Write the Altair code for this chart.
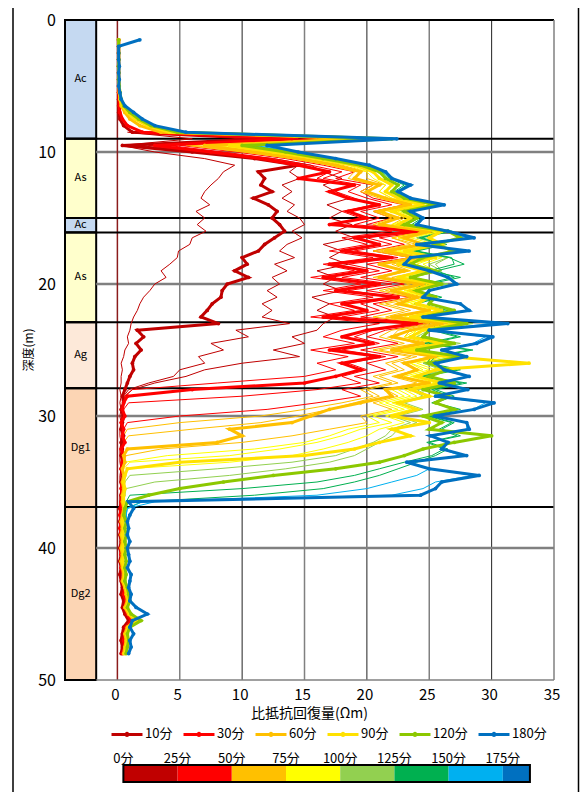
import altair as alt
import pandas as pd

FONT = "Noto Sans CJK JP"

# ---------------- axes / text ----------------
x_ticks = [0, 5, 10, 15, 20, 25, 30, 35]
y_ticks = [0, 10, 20, 30, 40, 50]
x_title = "比抵抗回復量(Ωm)"
y_title = "深度(m)"

# ---------------- strata ----------------
strata_name = ["Ac", "As", "Ac", "As", "Ag", "Dg1", "Dg2"]
strata_top = [0, 9, 15, 16.1, 22.9, 27.9, 36.9]
strata_bottom = [9, 15, 16.1, 22.9, 27.9, 36.9, 50]
strata_color = ["#c5d9f1", "#ffffcc", "#c5d9f1", "#ffffcc", "#fde9d9", "#fcd5b4", "#fcd5b4"]
boundary_depth = [9, 15, 16.1, 22.9, 27.9, 36.9]

grid_gray_x = [5, 15, 25]
grid_dark_x = [10, 20, 30]
grid_depth = [10, 20, 30, 40]

# ---------------- highlighted curves ----------------
thick_labels = ["10分", "30分", "60分", "90分", "120分", "180分"]
thick_colors = ["#c00000", "#ff0000", "#ffc000", "#ffe100", "#8cc800", "#0070c0"]

depth_full = [
    1.5, 2.0, 2.5, 3.0, 3.5, 4.0, 4.5, 5.0, 5.5, 6.0,
    6.5, 7.0, 7.5, 8.0, 8.5, 9.0, 9.5, 10.0, 10.5, 11.0,
    11.5, 12.0, 12.5, 13.0, 13.5, 14.0, 14.5, 15.0, 15.5, 16.0,
    16.5, 17.0, 17.5, 18.0, 18.5, 19.0, 19.5, 20.0, 20.5, 21.0,
    21.5, 22.0, 22.5, 23.0, 23.5, 24.0, 24.5, 25.0, 25.5, 26.0,
    26.5, 27.0, 27.5, 28.0, 28.5, 29.0, 29.5, 30.0, 30.5, 31.0,
    31.5, 32.0, 32.5, 33.0, 33.5, 34.0, 34.5, 35.0, 35.5, 36.0,
    36.5, 37.0, 37.5, 38.0, 38.5, 39.0, 39.5, 40.0, 40.5, 41.0,
    41.5, 42.0, 42.5, 43.0, 43.5, 44.0, 44.5, 45.0, 45.5, 46.0,
    46.5, 47.0, 47.5, 48.0]

c10 = [
    0.1, 0.1, 0.1, 0.1, 0.1, 0.1, 0.1, 0.1, 0.1, 0.1,
    0.1, 0.1, 0.2, 0.5, 1.2, 12.0, 0.4, 6.0, 11.0, 14.5,
    11.3, 11.8, 11.5, 12.4, 10.9, 12.1, 12.8, 12.4, 13.0, 13.4,
    12.6, 11.8, 11.3, 10.0, 10.4, 9.4, 10.5, 8.8, 8.4, 8.3,
    7.6, 7.2, 6.7, 8.1, 1.6, 2.1, 1.5, 1.9, 1.4, 1.2,
    1.3, 1.0, 0.8, 0.6, 0.4, 0.5, 0.3, 0.5, 0.4, 0.3,
    0.5, 0.3, 0.4, 0.3, 0.5, 0.3, 0.4, 0.3, 0.4, 0.3,
    0.3, 0.2, 0.3, 0.2, 0.3, 0.2, 0.3, 0.2, 0.3, 0.2,
    0.3, 0.2, 0.3, 0.4, 0.3, 0.5, 0.4, 0.6, 0.9, 0.5,
    0.4, 0.3, 0.4, 0.3]
c30 = [
    0.1, 0.1, 0.1, 0.1, 0.1, 0.1, 0.1, 0.1, 0.1, 0.15,
    0.15, 0.2, 0.4, 0.8, 2.0, 14.0, 3.0, 7.5, 11.5, 14.5,
    17.0, 14.5, 19.0, 17.0, 18.5, 21.0, 18.5, 20.0, 17.0, 24.0,
    19.0, 21.0, 18.0, 22.0, 17.0, 20.0, 16.5, 21.0, 17.5, 22.5,
    18.0, 20.0, 16.5, 24.0, 20.0, 18.0, 20.5, 17.0, 21.0, 18.0,
    19.5, 17.5, 15.0, 6.0, 0.8, 0.5, 0.4, 0.6, 0.3, 0.5,
    0.4, 0.6, 0.3, 0.5, 0.4, 0.3, 0.5, 0.4, 0.3, 0.4,
    0.3, 0.3, 0.2, 0.3, 0.2, 0.3, 0.4, 0.3, 0.3, 0.4,
    0.3, 0.5, 0.4, 0.6, 0.5, 0.7, 0.6, 0.8, 1.1, 0.7,
    0.6, 0.5, 0.6, 0.4]
c60 = [
    0.1, 0.1, 0.1, 0.1, 0.1, 0.1, 0.1, 0.1, 0.15, 0.2,
    0.3, 0.6, 1.0, 1.8, 3.5, 21.0, 7.0, 11.0, 14.5, 17.5,
    19.5, 19.0, 21.0, 20.0, 21.5, 23.5, 21.0, 22.5, 21.0, 25.0,
    23.0, 24.5, 21.5, 24.0, 21.0, 23.0, 21.0, 24.5, 22.0, 24.0,
    22.5, 25.0, 22.0, 26.0, 23.5, 22.0, 24.5, 22.0, 25.5, 23.0,
    24.0, 22.5, 25.0, 21.5, 22.0, 19.5, 17.0, 15.5, 14.0, 9.0,
    10.0, 8.0, 0.8, 0.5, 0.6, 0.4, 0.5, 0.4, 0.5, 0.4,
    0.4, 0.5, 0.4, 0.3, 0.4, 0.3, 0.4, 0.3, 0.4, 0.3,
    0.4, 0.5, 0.4, 0.6, 0.7, 0.8, 0.6, 0.9, 1.4, 0.8,
    0.6, 0.7, 0.6, 0.5]
c90 = [
    0.1, 0.1, 0.1, 0.1, 0.1, 0.1, 0.1, 0.15, 0.2, 0.25,
    0.4, 0.8, 1.4, 2.4, 4.2, 21.5, 9.0, 12.5, 16.0, 19.0,
    20.5, 21.0, 22.0, 21.5, 22.5, 24.5, 22.0, 23.5, 22.5, 26.0,
    25.0, 26.0, 23.0, 25.5, 22.5, 24.5, 22.5, 25.5, 23.5, 25.0,
    24.0, 26.0, 23.5, 27.5, 24.5, 23.5, 26.0, 23.0, 26.5, 33.0,
    25.5, 24.0, 26.0, 23.5, 25.0, 22.5, 24.0, 22.0, 25.0, 22.0,
    23.5, 21.0, 19.0, 15.0, 5.0, 0.8, 0.6, 0.5, 0.6, 0.5,
    0.5, 0.6, 0.5, 0.4, 0.5, 0.4, 0.5, 0.4, 0.5, 0.4,
    0.5, 0.6, 0.5, 0.7, 0.8, 0.9, 0.7, 1.0, 1.6, 0.9,
    0.7, 0.8, 0.7, 0.6]
c120 = [
    0.1, 0.1, 0.1, 0.1, 0.1, 0.1, 0.1, 0.15, 0.2, 0.3,
    0.5, 1.0, 1.7, 2.7, 4.8, 22.0, 10.0, 13.5, 16.5, 19.5,
    21.0, 21.5, 22.5, 22.0, 23.0, 25.5, 23.0, 24.0, 23.0, 26.5,
    27.5, 25.5, 27.0, 24.5, 23.5, 25.5, 23.5, 26.0, 24.0, 25.5,
    25.0, 27.0, 24.5, 28.0, 25.0, 24.5, 27.0, 24.0, 27.5, 25.0,
    26.5, 25.0, 27.0, 24.5, 26.5, 25.5, 27.0, 24.5, 26.0, 25.0,
    30.0, 27.0, 24.5, 23.0, 21.0, 17.5, 12.5, 8.5, 5.0, 2.5,
    0.8, 0.6, 0.5, 0.7, 0.6, 0.7, 0.6, 0.7, 0.6, 0.7,
    0.6, 0.7, 0.6, 0.8, 0.9, 1.0, 0.8, 1.1, 1.9, 1.0,
    0.8, 0.9, 0.8, 0.7]
c180 = [
    1.8, 0.1, 0.1, 0.1, 0.15, 0.1, 0.15, 0.1, 0.2, 0.3,
    0.6, 1.3, 2.0, 3.0, 5.5, 22.4, 12.0, 14.5, 17.5, 20.2,
    21.5, 22.0, 23.5, 22.5, 23.5, 26.2, 23.5, 24.5, 24.0, 26.5,
    28.6, 24.0, 28.2, 23.5, 23.0, 25.0, 26.5, 27.2, 25.0, 24.5,
    27.5, 28.2, 24.5, 31.3, 25.0, 30.1, 28.8, 26.0, 28.0, 25.5,
    26.2, 28.2, 25.8, 28.1, 25.5, 30.2, 28.6, 25.4, 28.0, 28.2,
    25.1, 26.5, 26.0, 28.0, 23.2, 25.0, 29.0, 26.0, 25.5, 24.3,
    0.9, 1.3, 1.0, 0.8, 0.9, 0.8, 1.0, 0.8, 0.9, 1.0,
    0.8, 1.1, 1.0, 0.9, 1.1, 1.0, 1.5, 2.4, 1.2, 1.0,
    1.3, 1.0, 1.1, 0.9]
thick_values = [c10, c30, c60, c90, c120, c180]

# ---------------- intermediate curves (thin) ----------------
depth_mid = [
    8.5, 9.0, 9.5, 10.0, 10.5, 11.0, 11.5, 12.0, 12.5, 13.0,
    13.5, 14.0, 14.5, 15.0, 15.5, 16.0, 16.5, 17.0, 17.5, 18.0,
    18.5, 19.0, 19.5, 20.0, 20.5, 21.0, 21.5, 22.0, 22.5, 23.0,
    23.5, 24.0, 24.5, 25.0, 25.5, 26.0, 26.5, 27.0, 27.5, 28.0,
    28.5, 29.0, 29.5, 30.0, 30.5, 31.0, 31.5, 32.0, 32.5, 33.0,
    33.5, 34.0, 34.5, 35.0, 35.5, 36.0, 36.5, 37.0, 37.5, 38.0]

m05 = [
    0.8, 6.0, 0.3, 3.0, 7.0, 9.4, 8.5, 8.1, 7.5, 7.0,
    6.7, 7.4, 6.3, 7.0, 6.4, 7.1, 6.0, 5.8, 4.9, 4.8,
    4.2, 3.5, 3.9, 3.0, 2.6, 2.1, 1.8, 1.6, 1.3, 1.1,
    1.0, 0.8, 0.9, 0.6, 0.5, 0.3, 0.4, 0.3, 0.3, 0.2,
    0.3, 0.2, 0.3, 0.2, 0.3, 0.2, 0.2, 0.3, 0.2, 0.2,
    0.2, 0.3, 0.2, 0.2, 0.3, 0.2, 0.2, 0.3, 0.2, 0.2]
m15 = [
    1.2, 13.0, 0.6, 7.0, 12.0, 14.5, 13.8, 14.6, 13.2, 14.0,
    13.2, 14.2, 13.6, 14.6, 15.0, 14.0, 14.8, 13.6, 13.0, 14.2,
    12.6, 13.6, 12.4, 13.0, 12.0, 12.8, 11.6, 12.4, 11.6, 13.8,
    9.5, 10.5, 7.5, 8.5, 6.5, 7.0, 5.0, 4.5, 2.5, 0.9,
    0.5, 0.4, 0.5, 0.3, 0.4, 0.3, 0.4, 0.3, 0.3, 0.4,
    0.3, 0.3, 0.4, 0.3, 0.3, 0.4, 0.3, 0.3, 0.3, 0.3]
m20 = [
    1.5, 13.5, 1.5, 7.5, 12.5, 15.5, 16.5, 18.0, 16.5, 17.5,
    18.6, 16.8, 18.0, 17.0, 18.8, 17.5, 19.0, 16.5, 18.0, 17.0,
    18.5, 16.0, 17.5, 16.5, 18.0, 15.6, 17.0, 16.0, 17.5, 16.5,
    16.0, 14.0, 15.0, 12.5, 14.6, 10.0, 7.0, 5.5, 3.0, 1.2,
    0.6, 0.5, 0.4, 0.5, 0.3, 0.4, 0.5, 0.3, 0.4, 0.3,
    0.3, 0.4, 0.3, 0.3, 0.4, 0.3, 0.3, 0.3, 0.4, 0.3]
m25 = [
    1.8, 13.8, 2.5, 7.8, 12.0, 15.0, 17.0, 16.0, 18.5, 17.5,
    19.0, 20.5, 18.0, 19.5, 17.5, 22.0, 18.0, 20.0, 17.0, 20.5,
    16.5, 19.0, 15.5, 19.5, 16.5, 20.5, 17.0, 19.0, 15.5, 21.0,
    18.0, 16.5, 19.0, 15.5, 18.5, 16.0, 17.5, 15.0, 8.0, 1.2,
    0.6, 0.4, 0.5, 0.4, 0.3, 0.5, 0.4, 0.3, 0.4, 0.3,
    0.4, 0.3, 0.3, 0.4, 0.3, 0.3, 0.4, 0.3, 0.3, 0.3]
m35 = [
    2.2, 14.5, 4.0, 8.5, 12.5, 15.5, 18.0, 16.5, 19.5, 18.5,
    20.0, 22.0, 19.5, 21.0, 19.0, 24.5, 20.0, 22.0, 19.0, 22.5,
    18.5, 21.0, 18.0, 22.0, 18.5, 22.5, 19.5, 21.0, 18.0, 24.5,
    20.5, 19.0, 21.0, 18.0, 21.5, 18.5, 20.0, 18.0, 19.5, 16.0,
    10.0, 0.9, 0.5, 0.4, 0.5, 0.3, 0.4, 0.5, 0.3, 0.4,
    0.4, 0.3, 0.4, 0.3, 0.3, 0.4, 0.3, 0.3, 0.4, 0.3]
m45 = [
    2.6, 16.0, 5.0, 9.5, 13.5, 16.5, 19.0, 17.5, 20.5, 19.5,
    20.5, 23.0, 20.5, 22.0, 20.0, 25.0, 21.0, 23.0, 20.5, 23.5,
    20.0, 22.0, 19.5, 23.0, 20.0, 23.5, 20.5, 22.0, 19.5, 25.0,
    21.5, 20.0, 22.5, 19.5, 22.5, 20.0, 21.5, 19.0, 21.0, 18.0,
    19.5, 16.0, 12.0, 5.0, 0.8, 0.5, 0.4, 0.5, 0.4, 0.3,
    0.4, 0.3, 0.4, 0.3, 0.4, 0.3, 0.3, 0.4, 0.3, 0.3]
m50 = [
    2.8, 17.5, 5.5, 10.0, 14.0, 17.0, 19.0, 18.5, 20.5, 19.5,
    21.0, 23.0, 20.5, 22.0, 20.5, 24.5, 22.0, 23.5, 20.5, 23.5,
    21.0, 23.0, 20.5, 23.5, 21.0, 23.5, 21.0, 23.0, 20.5, 25.0,
    22.0, 21.0, 23.0, 20.5, 23.5, 21.5, 22.5, 20.5, 22.0, 19.5,
    20.5, 18.0, 15.0, 11.5, 5.0, 0.8, 0.5, 0.4, 0.5, 0.4,
    0.4, 0.5, 0.4, 0.3, 0.4, 0.3, 0.4, 0.3, 0.4, 0.3]
m55 = [
    3.0, 18.5, 6.0, 10.5, 14.5, 17.5, 19.5, 19.0, 21.0, 20.0,
    21.5, 23.5, 21.0, 22.5, 21.0, 24.5, 22.0, 24.0, 21.0, 24.5,
    22.0, 23.5, 21.0, 24.0, 21.5, 24.0, 21.5, 23.5, 21.5, 25.5,
    22.5, 22.0, 24.0, 21.0, 24.0, 22.0, 23.0, 21.0, 22.5, 20.0,
    21.0, 19.0, 17.0, 14.5, 11.5, 6.0, 0.9, 0.5, 0.4, 0.5,
    0.4, 0.5, 0.4, 0.4, 0.3, 0.4, 0.3, 0.4, 0.3, 0.3]
m70 = [
    3.8, 21.0, 7.5, 11.5, 15.0, 18.0, 20.0, 20.0, 21.5, 21.0,
    22.0, 24.0, 22.0, 23.0, 22.0, 25.0, 22.5, 24.5, 22.0, 25.0,
    23.0, 24.5, 22.0, 25.0, 22.5, 24.5, 22.5, 24.5, 22.5, 26.5,
    23.5, 23.0, 25.0, 22.0, 25.0, 23.0, 24.0, 22.0, 24.0, 21.5,
    22.5, 20.5, 22.0, 19.5, 20.0, 17.0, 14.0, 10.0, 3.5, 0.7,
    0.5, 0.4, 0.5, 0.4, 0.5, 0.4, 0.4, 0.5, 0.4, 0.4]
m75 = [
    4.0, 21.0, 8.0, 12.0, 15.5, 18.5, 20.0, 20.5, 21.5, 21.0,
    22.0, 24.0, 22.0, 23.5, 22.0, 25.5, 22.5, 24.5, 22.0, 25.5,
    23.5, 24.5, 22.5, 25.0, 22.5, 25.0, 23.0, 24.5, 23.0, 27.0,
    24.0, 23.0, 25.5, 22.5, 25.5, 23.5, 24.5, 22.5, 24.5, 22.0,
    23.0, 21.0, 22.5, 20.0, 21.0, 18.5, 17.0, 15.0, 11.0, 4.0,
    0.6, 0.5, 0.5, 0.4, 0.5, 0.4, 0.5, 0.4, 0.4, 0.5]
m85 = [
    4.2, 21.5, 8.5, 12.5, 16.0, 19.0, 20.5, 21.0, 22.0, 21.5,
    22.5, 24.5, 22.0, 23.5, 22.5, 26.0, 23.0, 25.0, 22.5, 25.5,
    24.0, 25.0, 22.5, 25.5, 23.0, 25.0, 23.0, 25.0, 23.5, 27.0,
    24.0, 23.5, 26.0, 23.0, 26.0, 23.5, 25.0, 23.0, 25.0, 22.5,
    23.5, 21.5, 23.0, 20.5, 22.0, 19.5, 18.0, 16.0, 13.0, 9.0,
    1.0, 0.5, 0.4, 0.5, 0.4, 0.5, 0.4, 0.5, 0.4, 0.5]
m95 = [
    4.4, 21.5, 9.0, 13.0, 16.5, 19.5, 21.0, 21.5, 22.5, 22.0,
    23.0, 25.0, 22.5, 24.0, 23.0, 26.0, 23.5, 25.5, 23.0, 26.0,
    24.5, 25.5, 23.0, 26.0, 23.5, 25.5, 23.5, 25.5, 24.0, 28.0,
    24.5, 24.0, 26.5, 23.5, 26.5, 24.0, 25.5, 23.5, 25.5, 23.0,
    24.0, 22.0, 23.5, 21.5, 23.0, 21.0, 20.0, 18.5, 16.5, 14.0,
    9.0, 0.8, 0.5, 0.6, 0.5, 0.5, 0.4, 0.5, 0.5, 0.4]
m105 = [
    4.6, 22.0, 9.5, 13.0, 16.5, 19.5, 21.0, 21.5, 22.5, 22.0,
    23.0, 25.5, 23.0, 24.0, 23.0, 26.5, 24.0, 26.0, 23.5, 26.5,
    25.0, 26.0, 23.5, 26.5, 23.5, 25.5, 24.0, 26.0, 24.0, 28.0,
    25.0, 24.0, 27.0, 24.0, 27.0, 24.5, 26.0, 24.0, 26.0, 23.5,
    24.5, 22.5, 24.0, 22.0, 23.5, 22.0, 21.5, 20.5, 19.0, 17.5,
    14.0, 8.0, 1.0, 0.6, 0.5, 0.6, 0.5, 0.5, 0.6, 0.5]
m115 = [
    4.8, 22.0, 9.8, 13.2, 16.5, 19.5, 21.0, 21.5, 22.5, 22.0,
    23.0, 25.5, 23.0, 24.0, 23.0, 26.5, 24.0, 26.0, 23.5, 26.5,
    25.5, 26.0, 23.5, 26.5, 23.5, 25.5, 24.0, 26.0, 24.0, 28.5,
    25.0, 24.5, 27.5, 24.0, 27.5, 24.5, 26.5, 24.0, 26.5, 24.0,
    25.0, 23.0, 24.5, 22.5, 24.0, 22.5, 22.0, 21.0, 20.0, 19.0,
    17.0, 13.5, 9.0, 3.0, 0.7, 0.6, 0.5, 0.6, 0.5, 0.6]
m130 = [
    5.0, 22.2, 10.2, 13.8, 17.0, 19.8, 21.2, 21.8, 23.0, 22.2,
    23.2, 25.8, 23.2, 24.2, 23.2, 26.6, 24.2, 26.2, 23.8, 26.6,
    27.8, 25.6, 27.0, 24.6, 23.6, 25.6, 23.8, 26.2, 24.2, 25.6,
    25.2, 27.2, 24.6, 28.2, 25.2, 24.8, 27.2, 24.2, 27.6, 25.2,
    26.6, 25.2, 27.2, 24.8, 26.8, 25.8, 27.2, 24.8, 26.2, 25.2,
    23.0, 21.0, 19.0, 16.0, 10.0, 1.0, 0.7, 0.6, 0.7, 0.6]
m145 = [
    5.2, 22.3, 10.6, 14.0, 17.2, 20.0, 21.3, 22.0, 23.2, 22.4,
    23.4, 26.0, 23.4, 24.4, 23.6, 26.8, 24.4, 26.4, 24.0, 26.8,
    27.0, 25.0, 27.5, 25.0, 24.0, 26.0, 24.0, 26.5, 24.5, 26.0,
    25.5, 27.5, 25.0, 28.5, 25.5, 25.0, 27.5, 24.5, 28.0, 25.5,
    27.0, 25.5, 27.5, 25.0, 27.0, 26.0, 27.5, 25.0, 26.5, 25.5,
    24.0, 22.5, 21.0, 19.0, 16.5, 11.0, 2.0, 0.7, 0.7, 0.6]
m155 = [
    5.3, 22.3, 11.0, 14.2, 17.3, 20.0, 21.4, 22.0, 23.4, 22.4,
    23.5, 26.0, 23.5, 24.5, 24.0, 26.5, 28.0, 24.0, 28.0, 23.5,
    23.0, 25.0, 26.5, 27.0, 25.0, 24.5, 27.5, 28.0, 24.5, 30.0,
    25.0, 29.5, 28.5, 26.0, 28.0, 25.5, 26.0, 28.0, 25.5, 28.0,
    25.5, 29.5, 28.5, 25.5, 28.0, 28.0, 25.0, 26.5, 26.0, 27.5,
    23.5, 25.0, 24.0, 22.0, 20.0, 16.0, 3.0, 0.8, 0.7, 0.7]
m170 = [
    5.4, 22.4, 11.5, 14.4, 17.4, 20.1, 21.5, 22.0, 23.5, 22.5,
    23.5, 26.0, 23.5, 24.5, 24.0, 26.5, 28.3, 24.0, 28.0, 23.5,
    23.0, 25.0, 26.5, 27.2, 25.0, 24.5, 27.5, 28.2, 24.5, 31.0,
    25.0, 30.0, 28.7, 26.0, 28.0, 25.5, 26.2, 28.2, 25.8, 28.1,
    25.5, 30.0, 28.6, 25.4, 28.0, 28.2, 25.1, 26.5, 26.0, 28.0,
    23.2, 25.0, 28.5, 25.5, 24.5, 22.0, 2.0, 0.8, 0.7, 0.8]

thin_minutes = [5, 15, 20, 25, 35, 45, 50, 55, 70, 75, 85, 95, 105, 115, 130, 145, 155, 170]
thin_values = [m05, m15, m20, m25, m35, m45, m50, m55, m70, m75, m85, m95,
               m105, m115, m130, m145, m155, m170]

# ---------------- colour bar (minutes) ----------------
band_start = [0, 25, 50, 75, 100, 125, 150, 175]
band_end = [25, 50, 75, 100, 125, 150, 175, 187.5]
band_color = ["#c00000", "#ff0000", "#ffc000", "#ffff00", "#92d050", "#00b050", "#00b0f0", "#0070c0"]
band_label = ["0分", "25分", "50分", "75分", "100分", "125分", "150分", "175分"]

# ================= build tables =================
def band_of(t):
    for s, e, c in zip(band_start, band_end, band_color):
        if s <= t < e:
            return c
    return band_color[-1]

thick_rows = []
for lab, col, vals in zip(thick_labels, thick_colors, thick_values):
    for d, v in zip(depth_full, vals):
        thick_rows.append({"curve": lab, "hex": col, "depth": d, "value": v})
thick_df = pd.DataFrame(thick_rows)

thin_rows = []
for t, vals in zip(thin_minutes, thin_values):
    for d, v in zip(depth_mid, vals):
        thin_rows.append({"curve": "t%03d" % t, "hex": band_of(t), "depth": d, "value": v})
thin_df = pd.DataFrame(thin_rows)

strata_df = pd.DataFrame({"name": strata_name, "top": strata_top,
                          "bottom": strata_bottom, "color": strata_color})
strata_df["mid"] = (strata_df["top"] + strata_df["bottom"]) / 2

band_df = pd.DataFrame({"start": band_start, "end": band_end,
                        "color": band_color, "label": band_label})

# ================= layout constants =================
W, H = 489, 660
XMIN, XMAX, COL_EDGE = -4.2, 35, -1.7
YMIN, YMAX = 0, 50
# colour bar is placed under the plot: its 0 .. 187.5 min span maps onto x = 0.48 .. 33.07
CB_X0, CB_X1 = 0.48, 33.07
CB_K = (CB_X1 - CB_X0) / (band_end[-1] - band_start[0])

XS = alt.Scale(domain=[XMIN, XMAX], nice=False, zero=False)
YS = alt.Scale(domain=[YMIN, YMAX], reverse=True, nice=False, zero=False)


def xf(field):
    return alt.X(field, scale=XS, axis=None)


def yf(field):
    return alt.Y(field, scale=YS, axis=None)


def xd(v):
    return alt.XDatum(v, scale=XS, axis=None)


def yd(v):
    return alt.YDatum(v, scale=YS, axis=None)


one = pd.DataFrame({"k": [0]})

strata_rect = alt.Chart(strata_df).mark_rect(stroke="black", strokeWidth=2).encode(
    x=xd(XMIN), x2=alt.datum(COL_EDGE), y=yf("top:Q"), y2="bottom:Q",
    fill=alt.Fill("color:N", scale=None))
strata_text = alt.Chart(strata_df).mark_text(fontSize=11, font=FONT, color="black").encode(
    x=xd((XMIN + COL_EDGE) / 2), y=yf("mid:Q"), text="name:N")

vgray = alt.Chart(pd.DataFrame({"g": grid_gray_x})).mark_rule(color="#808080", strokeWidth=1.5).encode(
    x=xf("g:Q"), y=yd(YMIN), y2=alt.datum(YMAX))
vdark = alt.Chart(pd.DataFrame({"g": grid_dark_x})).mark_rule(color="#222222", strokeWidth=1).encode(
    x=xf("g:Q"), y=yd(YMIN), y2=alt.datum(YMAX))
vzero = alt.Chart(one).mark_rule(color="#8b1c1c", strokeWidth=1.5).encode(
    x=xd(0), y=yd(YMIN), y2=alt.datum(YMAX))
hgrid = alt.Chart(pd.DataFrame({"g": grid_depth})).mark_rule(color="#808080", strokeWidth=2.5).encode(
    y=yf("g:Q"), x=xd(COL_EDGE), x2=alt.datum(XMAX))
bounds = alt.Chart(pd.DataFrame({"b": boundary_depth})).mark_rule(color="black", strokeWidth=2).encode(
    y=yf("b:Q"), x=xd(XMIN), x2=alt.datum(XMAX))

# tick labels and axis titles (drawn as text through the same scales)
xlab = alt.Chart(pd.DataFrame({"t": x_ticks})).mark_text(
    fontSize=15, font=FONT, color="black", baseline="middle", align="center", dx=-2).encode(
    x=xf("t:Q"), y=alt.value(H + 15), text="t:Q")
ylab = alt.Chart(pd.DataFrame({"t": y_ticks})).mark_text(
    fontSize=16, font=FONT, color="black", baseline="middle", align="right", dy=1).encode(
    y=yf("t:Q"), x=alt.value(-9), text="t:Q")
xtitle = alt.Chart(pd.DataFrame({"t": [x_title]})).mark_text(
    fontSize=14, font=FONT, color="black", baseline="middle", align="center").encode(
    x=alt.value(W / 2), y=alt.value(H + 34), text="t:N")
ytitle = alt.Chart(pd.DataFrame({"t": [y_title]})).mark_text(
    fontSize=12, font=FONT, color="black", baseline="middle", align="center", angle=270).encode(
    x=alt.value(-36), y=alt.value(H / 2), text="t:N")

thin_lines = alt.Chart(thin_df).mark_line(strokeWidth=1).encode(
    x=xf("value:Q"), y=yf("depth:Q"), color=alt.Color("hex:N", scale=None),
    detail="curve:N", order="depth:Q")

# legend symbol: a line with a marker dot in its middle
LINE_WITH_DOT = "M-1,0L1,0M-0.07,0A0.07,0.07,0,1,0,0.07,0A0.07,0.07,0,1,0,-0.07,0"
LEG = alt.Legend(orient="none", legendX=45, legendY=697, direction="horizontal", title=None,
                 symbolType=LINE_WITH_DOT, symbolStrokeWidth=3, symbolSize=960,
                 labelFontSize=13, labelFont=FONT, labelColor="black",
                 columnPadding=4, labelOffset=1, padding=0)

thick_layers = []
for lab in thick_labels:
    sub = thick_df[thick_df["curve"] == lab]
    ln = alt.Chart(sub).mark_line(strokeWidth=3).encode(
        x=xf("value:Q"), y=yf("depth:Q"),
        color=alt.Color("curve:N", scale=alt.Scale(domain=thick_labels, range=thick_colors), legend=LEG),
        order="depth:Q")
    pt = alt.Chart(sub).mark_circle(size=14, opacity=1).encode(
        x=xf("value:Q"), y=yf("depth:Q"), color=alt.Color("hex:N", scale=None))
    thick_layers += [ln, pt]

top_border = alt.Chart(one).mark_rule(color="black", strokeWidth=2).encode(
    y=yd(YMIN), x=xd(XMIN), x2=alt.datum(XMAX))
right_border = alt.Chart(one).mark_rule(color="#808080", strokeWidth=1.5).encode(
    x=xd(XMAX), y=yd(YMIN), y2=alt.datum(YMAX))
bottom_border = alt.Chart(one).mark_rule(color="#808080", strokeWidth=1.5).encode(
    y=yd(YMAX), x=xd(COL_EDGE), x2=alt.datum(XMAX))

outer = alt.Chart(one).mark_rect(filled=False, stroke="black", strokeWidth=1.5).encode(
    x=alt.value(-52), x2=alt.value(513.5), y=alt.value(-14), y2=alt.value(820))

# colour bar (minutes mapped under the plot)
cb_base = alt.Chart(band_df).transform_calculate(
    xs=f"{CB_X0} + (datum.start - {band_start[0]}) * {CB_K}",
    xe=f"{CB_X0} + (datum.end - {band_start[0]}) * {CB_K}")
cb_rect = cb_base.mark_rect().encode(
    x=xf("xs:Q"), x2="xe:Q", y=alt.value(745), y2=alt.value(762),
    fill=alt.Fill("color:N", scale=None))
cb_border = cb_base.mark_rect(filled=False, stroke="black", strokeWidth=2).encode(
    x=xf("min(xs):Q"), x2="max(xe):Q", y=alt.value(745), y2=alt.value(762))
cb_text = cb_base.mark_text(fontSize=13, font=FONT, color="black", baseline="middle").encode(
    x=xf("xs:Q"), y=alt.value(739), text="label:N")

chart = alt.layer(
    strata_rect, strata_text, vgray, vdark, hgrid, vzero, bounds,
    thin_lines, *thick_layers, top_border, right_border, bottom_border, outer,
    xlab, ylab, xtitle, ytitle, cb_rect, cb_border, cb_text,
).properties(
    width=W, height=H,
    autosize=alt.AutoSizeParams(type="none"),
    padding={"left": 57, "top": 12, "right": 26, "bottom": 112},
).configure(font=FONT).configure_view(stroke=None)

chart.save("out.html", embed_options={"renderer": "svg", "actions": False})
